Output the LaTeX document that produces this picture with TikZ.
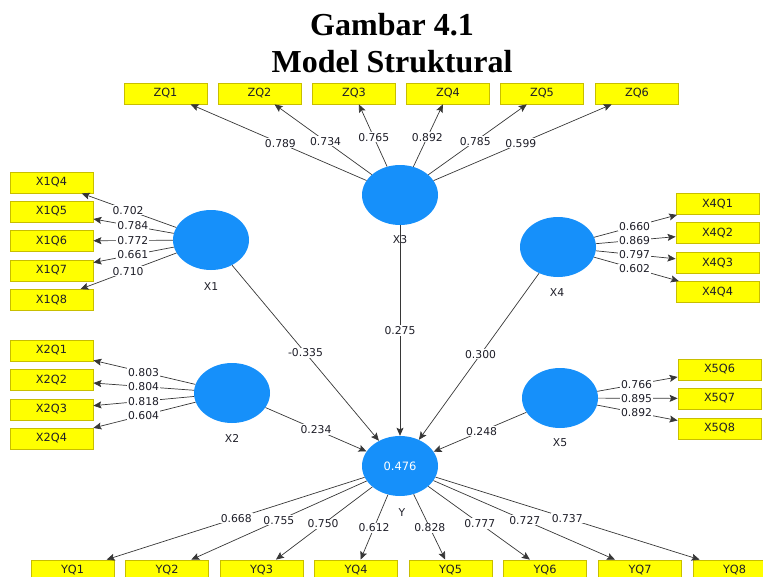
\documentclass[tikz,border=0pt]{standalone}
\usepackage{fontspec}
\setmainfont{Liberation Serif}
\newfontfamily\dejavu{DejaVu Sans}
\usetikzlibrary{shapes.geometric,arrows.meta,calc}
\definecolor{lvblue}{RGB}{22,144,250}
\definecolor{boxyellow}{RGB}{255,255,0}
\definecolor{boxborder}{RGB}{200,190,0}
\definecolor{edgegray}{RGB}{55,55,55}
\definecolor{txtgray}{RGB}{30,30,40}
\begin{document}
\begin{tikzpicture}[x=1pt,y=-1pt,
 lv/.style={ellipse, fill=lvblue, draw=none, minimum width=76pt, minimum height=60pt, inner sep=0pt},
 ind/.style={rectangle, draw=boxborder, line width=0.8pt, fill=boxyellow, minimum width=83pt, minimum height=21pt, inner sep=0pt, font=\dejavu\fontsize{11.3}{13}\selectfont, text=txtgray},
 lbl/.style={fill=white, inner sep=1pt, font=\dejavu\fontsize{10.8}{12}\selectfont, text=txtgray},
 lvname/.style={font=\dejavu\fontsize{10.8}{12}\selectfont, text=txtgray},
 conn/.style={draw=edgegray, line width=0.7pt, -{Stealth[length=8pt,width=7pt,inset=1.5pt]}},
 ttl/.style={font=\bfseries\fontsize{32}{36}\selectfont}
]
\useasboundingbox (0,0) rectangle (763,576);
\clip (0,0) rectangle (763,576);

% titles
\node[ttl, anchor=base] (t1) at (392,35) {Gambar 4.1};
\node[ttl, anchor=base] (t2) at (392,72) {Model Struktural};

% latent variables
\node[lv] (X3) at (400,195) {};
\node[lv] (X1) at (211,240) {};
\node[lv] (X4) at (558,247) {};
\node[lv] (X2) at (232,393) {};
\node[lv] (X5) at (560,398) {};
\node[lv, text=white, font=\dejavu\fontsize{11.5}{13}\selectfont] (Y) at (400,466) {0.476};

\node[lvname] (nX3) at (400,240) {X3};
\node[lvname] (nX1) at (211,287) {X1};
\node[lvname] (nX4) at (557,293) {X4};
\node[lvname] (nX2) at (232,438) {X2};
\node[lvname] (nX5) at (560,443) {X5};
\node[lvname] (nY) at (402,513) {Y};

% indicators
\node[ind] (ZQ1) at (165.5,93.5) {ZQ1};
\node[ind] (ZQ2) at (259.5,93.5) {ZQ2};
\node[ind] (ZQ3) at (354,93.5) {ZQ3};
\node[ind] (ZQ4) at (448,93.5) {ZQ4};
\node[ind] (ZQ5) at (542,93.5) {ZQ5};
\node[ind] (ZQ6) at (637,93.5) {ZQ6};

\node[ind] (X1Q4) at (51.5,182.5) {X1Q4};
\node[ind] (X1Q5) at (51.5,211.5) {X1Q5};
\node[ind] (X1Q6) at (51.5,241) {X1Q6};
\node[ind] (X1Q7) at (51.5,270.5) {X1Q7};
\node[ind] (X1Q8) at (51.5,300) {X1Q8};

\node[ind] (X2Q1) at (51.5,350.5) {X2Q1};
\node[ind] (X2Q2) at (51.5,380) {X2Q2};
\node[ind] (X2Q3) at (51.5,409.5) {X2Q3};
\node[ind] (X2Q4) at (51.5,438.5) {X2Q4};

\node[ind] (X4Q1) at (717.5,204) {X4Q1};
\node[ind] (X4Q2) at (717.5,233) {X4Q2};
\node[ind] (X4Q3) at (717.5,263) {X4Q3};
\node[ind] (X4Q4) at (717.5,292) {X4Q4};

\node[ind] (X5Q6) at (719.5,369.5) {X5Q6};
\node[ind] (X5Q7) at (719.5,398.5) {X5Q7};
\node[ind] (X5Q8) at (719.5,428.5) {X5Q8};

\node[ind] (YQ1) at (72.5,570.5) {YQ1};
\node[ind] (YQ2) at (167,570.5) {YQ2};
\node[ind] (YQ3) at (261.5,570.5) {YQ3};
\node[ind] (YQ4) at (356,570.5) {YQ4};
\node[ind] (YQ5) at (450.5,570.5) {YQ5};
\node[ind] (YQ6) at (545,570.5) {YQ6};
\node[ind] (YQ7) at (640,570.5) {YQ7};
\node[ind] (YQ8) at (734.5,570.5) {YQ8};

% connectors
\foreach \a/\b in {X3/ZQ1,X3/ZQ2,X3/ZQ3,X3/ZQ4,X3/ZQ5,X3/ZQ6,
  X1/X1Q4,X1/X1Q5,X1/X1Q6,X1/X1Q7,X1/X1Q8,
  X2/X2Q1,X2/X2Q2,X2/X2Q3,X2/X2Q4,
  X4/X4Q1,X4/X4Q2,X4/X4Q3,X4/X4Q4,
  X5/X5Q6,X5/X5Q7,X5/X5Q8,
  Y/YQ1,Y/YQ2,Y/YQ3,Y/YQ4,Y/YQ5,Y/YQ6,Y/YQ7,Y/YQ8,
  X1/Y,X2/Y,X3/Y,X4/Y,X5/Y}
  {\draw[conn] (\a) -- (\b);}

% labels
\foreach \a/\b/\t/\v in {X3/ZQ1/0.51/0.789,X3/ZQ2/0.53/0.734,X3/ZQ3/0.57/0.765,X3/ZQ4/0.57/0.892,X3/ZQ5/0.53/0.785,X3/ZQ6/0.51/0.599,
  X1/X1Q4/0.52/0.702,X1/X1Q5/0.49/0.784,X1/X1Q6/0.49/0.772,X1/X1Q7/0.49/0.661,X1/X1Q8/0.52/0.710,
  X2/X2Q1/0.49/0.803,X2/X2Q2/0.49/0.804,X2/X2Q3/0.49/0.818,X2/X2Q4/0.49/0.604,
  X4/X4Q1/0.48/0.660,X4/X4Q2/0.48/0.869,X4/X4Q3/0.48/0.797,X4/X4Q4/0.48/0.602,
  X5/X5Q6/0.48/0.766,X5/X5Q7/0.48/0.895,X5/X5Q8/0.48/0.892,
  Y/YQ1/0.50/0.668,Y/YQ2/0.52/0.755,Y/YQ3/0.555/0.750,Y/YQ4/0.59/0.612,Y/YQ5/0.59/0.828,Y/YQ6/0.55/0.777,Y/YQ7/0.52/0.727,Y/YQ8/0.50/0.737,
  X1/Y/0.50/-0.335,X2/Y/0.50/0.234,X3/Y/0.50/0.275,X4/Y/0.49/0.300,X5/Y/0.49/0.248}
  {\node[lbl] at ($(\a)!\t!(\b)$) {\v};}
\end{tikzpicture}
\end{document}
